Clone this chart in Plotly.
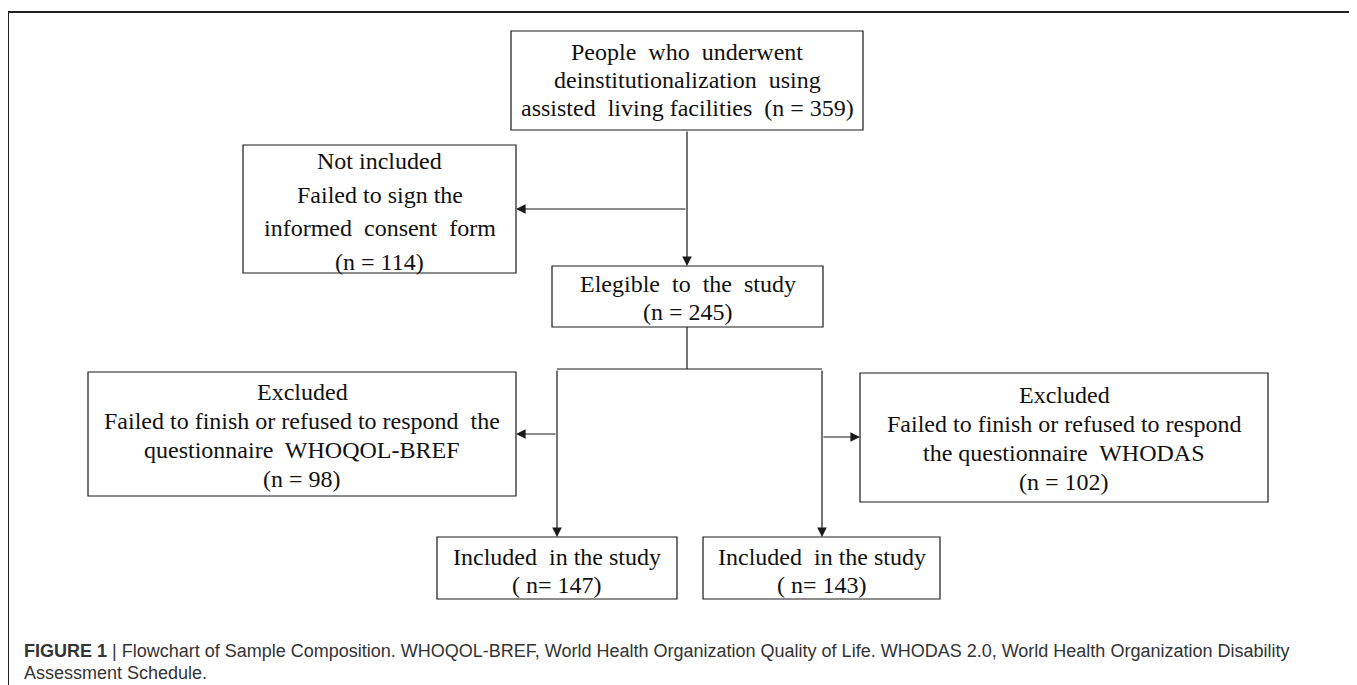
import plotly.graph_objects as go

# ---- content (text of each flowchart node) ----
top_lines = ["People  who  underwent", "deinstitutionalization  using",
             "assisted  living facilities  (n = 359)"]
notinc_lines = ["Not included", "Failed to sign the", "informed  consent  form", "(n = 114)"]
elig_lines = ["Elegible  to  the  study", "(n = 245)"]
excl_l_lines = ["Excluded", "Failed to finish or refused to respond  the",
                "questionnaire  WHOQOL-BREF", "(n = 98)"]
excl_r_lines = ["Excluded", "Failed to finish or refused to respond",
                "the questionnaire  WHODAS", "(n = 102)"]
inc_l_lines = ["Included  in the study", "( n= 147)"]
inc_r_lines = ["Included  in the study", "( n= 143)"]
caption_bold = "FIGURE 1 |"
caption_l1 = (" Flowchart of Sample Composition. WHOQOL-BREF, World Health Organization "
              "Quality of Life. WHODAS 2.0, World Health Organization Disability")
caption_l2 = "Assessment Schedule."

# page is offset by the 8px body margin; size the figure so it fills the window
OFF = 8
W, H = 1357, 685
fig = go.Figure()

LINE = dict(color="#1a1a1a", width=1.2)
SERIF = dict(family="Liberation Serif, Times New Roman, serif", size=24, color="#111")

# boxes: (x0, y0, x1, y1, lines, first-line y, line spacing)
boxes = [
    (511, 31, 863, 130, top_lines, 52, 28),
    (243, 145, 516, 273, notinc_lines, 161, 33.5),
    (552, 266, 823, 327, elig_lines, 284, 28),
    (88, 372, 516, 496, excl_l_lines, 392, 29),
    (860, 373, 1268, 502, excl_r_lines, 395, 29),
    (437, 537, 677, 599, inc_l_lines, 557, 28),
    (703, 537, 940, 599, inc_r_lines, 557, 28),
]

shapes = []
annotations = []
for x0, y0, x1, y1, lines, ly, sp in boxes:
    shapes.append(dict(type="rect", xref="x", yref="y", x0=x0, y0=y0, x1=x1, y1=y1,
                       line=LINE, fillcolor="rgba(0,0,0,0)"))
    cx = (x0 + x1) / 2
    for i, t in enumerate(lines):
        annotations.append(dict(x=cx, y=ly + i * sp, xref="x", yref="y", text=t,
                                showarrow=False, font=SERIF, xanchor="center", yanchor="middle"))

# plain connector lines
connectors = [
    (687, 327, 687, 369),
    (557, 369, 822, 369),
]
for x0, y0, x1, y1 in connectors:
    shapes.append(dict(type="line", xref="x", yref="y", x0=x0, y0=y0, x1=x1, y1=y1, line=LINE))

# arrows: (tail x, tail y, head x, head y)
arrows = [
    (687, 130, 687, 266),
    (687, 209, 516, 209),
    (557, 369, 557, 537),
    (557, 434, 516, 434),
    (822, 369, 822, 537),
    (822, 437, 860, 437),
]
for tx, ty, hx, hy in arrows:
    annotations.append(dict(x=hx, y=hy, ax=tx, ay=ty, xref="x", yref="y", axref="x", ayref="y",
                            text="", showarrow=True, arrowhead=2, arrowsize=1.6,
                            arrowwidth=1.2, arrowcolor="#1a1a1a", standoff=0, startstandoff=0))

# outer frame
shapes.append(dict(type="rect", xref="x", yref="y", x0=8, y0=12, x1=1354, y1=720,
                   line=dict(color="#222", width=2), fillcolor="rgba(0,0,0,0)"))

CAP = dict(family="Liberation Sans, Arial, sans-serif", size=18, color="#333")
annotations.append(dict(x=22, y=651, xref="x", yref="y", showarrow=False,
                        xanchor="left", yanchor="middle", font=CAP,
                        text="<b>" + caption_bold[:-1] + "</b>" + caption_bold[-1] + caption_l1))
annotations.append(dict(x=22, y=673, xref="x", yref="y", showarrow=False,
                        xanchor="left", yanchor="middle", font=CAP, text=caption_l2))

fig.update_layout(
    width=W - OFF, height=H - OFF, margin=dict(l=0, r=0, t=0, b=0),
    paper_bgcolor="white", plot_bgcolor="white",
    xaxis=dict(range=[OFF, W], visible=False, fixedrange=True),
    yaxis=dict(range=[H, OFF], visible=False, fixedrange=True),
    shapes=shapes, annotations=annotations, showlegend=False,
)
fig.write_html("out.html", config={"displayModeBar": False})
